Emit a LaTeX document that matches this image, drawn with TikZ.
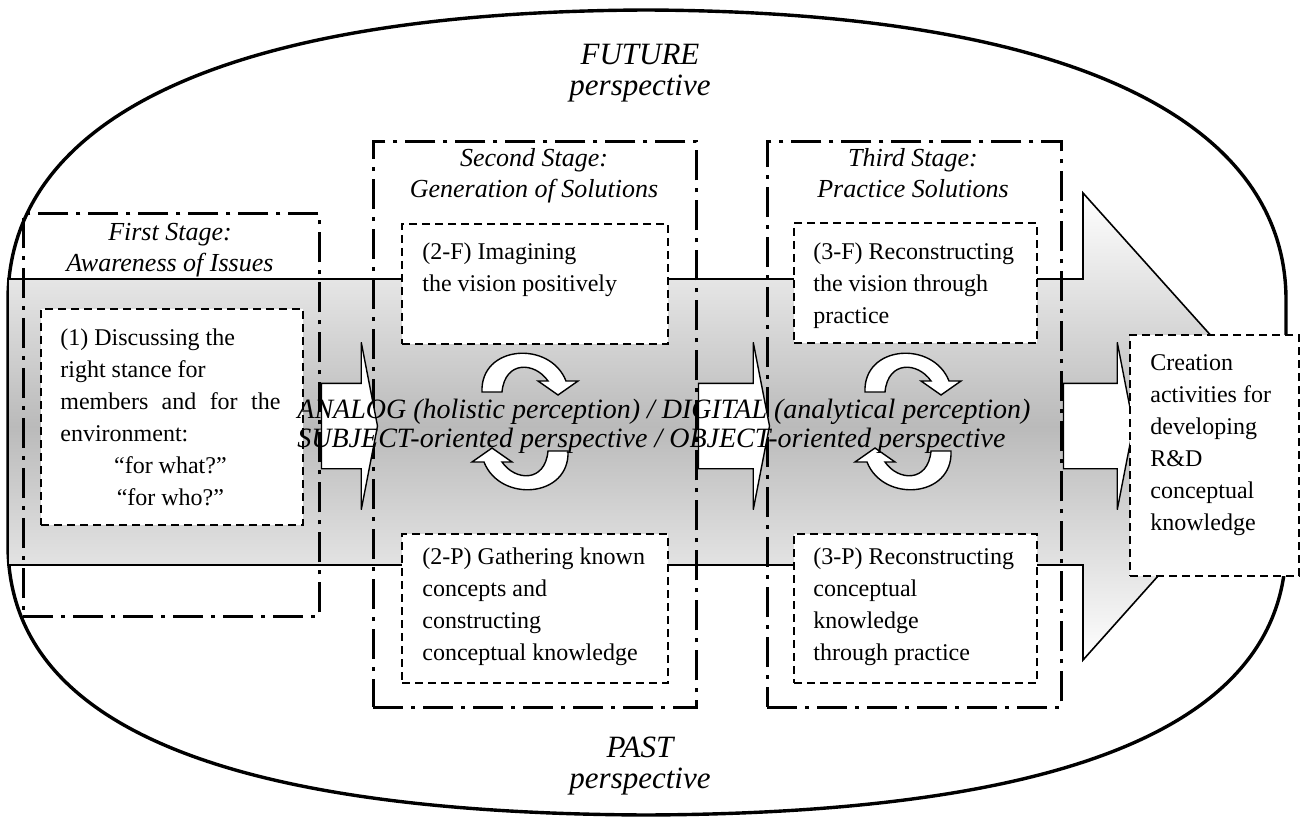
\documentclass[tikz,border=0pt]{standalone}
\usepackage{fontspec}
\setmainfont{Liberation Serif}
\usetikzlibrary{shapes.arrows}

\tikzset{
  stage/.style={draw, line width=1.4pt, dash pattern=on 15pt off 4pt on 2pt off 4pt, inner sep=0pt, anchor=north west},
  task/.style={draw, fill=white, line width=1pt, dash pattern=on 4pt off 2.5pt, inner sep=0pt, anchor=north west},
  tasktext/.style={anchor=base west, align=left, inner sep=0pt, font=\fontsize{12}{16}\selectfont},
  title/.style={anchor=base, align=center, inner sep=0pt, font=\fontsize{13}{15.5}\selectfont\itshape},
  push/.style={single arrow, draw, fill=white, line width=0.7pt, anchor=tail, inner xsep=0pt, inner ysep=21pt,
    single arrow head extend=20.5pt, single arrow tip angle=158},
  swirl/.pic={
    \draw[fill=white, line width=0.7pt] (-47,24) .. controls (-49,-23) and (21,-28) .. (37,13)
      -- (49,13) -- (29,27) -- (9,13) -- (19,13)
      .. controls (6,-6) and (-24,-8) .. (-27,24) -- cycle;
  }
}

\begin{document}
\begin{tikzpicture}[x=0.5pt,y=-0.5pt]
\useasboundingbox (0,0) rectangle (1304,823);
% time frame
\draw[line width=1.7pt, fill=white] (8,545) -- (8,300) .. controls (8,130) and (200,12) .. (646,10)
  .. controls (1092,12) and (1286,130) .. (1286,300) -- (1286,545)
  .. controls (1286,715) and (1092,813) .. (646,815)
  .. controls (200,813) and (8,715) .. cycle;
% big arrow
\draw[line width=0.8pt, top color=white, bottom color=white, middle color=black!27]
  (8,279) -- (1083,279) -- (1083,193) -- (1292,426) -- (1083,660) -- (1083,565) -- (8,565) -- cycle;

\node[stage, minimum width=148pt, minimum height=201.5pt] (s1) at (22,212) {};
\node[stage, minimum width=161.5pt, minimum height=283pt] (s2) at (372,140) {};
\node[stage, minimum width=147pt, minimum height=283pt] (s3) at (766,140) {};

\node[push, minimum height=28pt] (a1) at (s1.east |- 0,426) {};
\node[push, minimum height=35.5pt] (a2) at (s2.east |- 0,426) {};
\node[push, minimum height=35pt] (a3) at (s3.east |- 0,426) {};

\node[task, minimum width=131pt, minimum height=108pt] (b1) at (40,308) {};
\node[task, minimum width=133pt, minimum height=60pt] (b2f) at (401,223) {};
\node[task, minimum width=133pt, minimum height=74.5pt] (b2p) at (401,533) {};
\node[task, minimum width=121.5pt, minimum height=60pt] (b3f) at (793,222) {};
\node[task, minimum width=121.5pt, minimum height=74.5pt] (b3p) at (793,533) {};
\node[task, minimum width=84.5pt, minimum height=120.5pt] (bc) at (1129,334) {};

\pic at (529,368) {swirl};
\pic[rotate=180] at (521,475) {swirl};
\pic at (912,368) {swirl};
\pic[rotate=180] at (904,475) {swirl};

\node[tasktext] (t1) at (60,505) {(1) Discussing the\\right stance for\\\makebox[110pt][s]{members and for the}\\environment:\\\makebox[110pt]{“for what?”}\\\makebox[110pt]{“for who?”}};
\node[tasktext] (t2f) at (422,292) {(2-F) Imagining\\the vision positively};
\node[tasktext] (t2p) at (422,660) {(2-P) Gathering known\\concepts and\\constructing\\conceptual knowledge};
\node[tasktext] (t3f) at (813,323) {(3-F) Reconstructing\\the vision through\\practice};
\node[tasktext] (t3p) at (813,660) {(3-P) Reconstructing\\conceptual\\knowledge\\through practice};
\node[tasktext] (tc) at (1150,530) {Creation\\activities for\\developing\\R\&D\\conceptual\\knowledge};

\node[title] (h1) at (170,271) {First Stage:\\Awareness of Issues};
\node[title] (h2) at (534,198) {Second Stage:\\Generation of Solutions};
\node[title] (h3) at (913,198) {Third Stage:\\Practice Solutions};

\node[anchor=base west, align=left, inner sep=0pt, font=\fontsize{14}{14.5}\selectfont\itshape] (mode) at (297,447)
  {ANALOG (holistic perception) / DIGITAL (analytical perception)\\SUBJECT-oriented perspective / OBJECT-oriented perspective};

\node[anchor=base, align=center, inner sep=0pt, font=\fontsize{15.5}{15.5}\selectfont\itshape] (future) at (640,96) {FUTURE\\perspective};
\node[anchor=base, align=center, inner sep=0pt, font=\fontsize{15.5}{15.5}\selectfont\itshape] (past) at (640,788) {PAST\\perspective};
\end{tikzpicture}
\end{document}
